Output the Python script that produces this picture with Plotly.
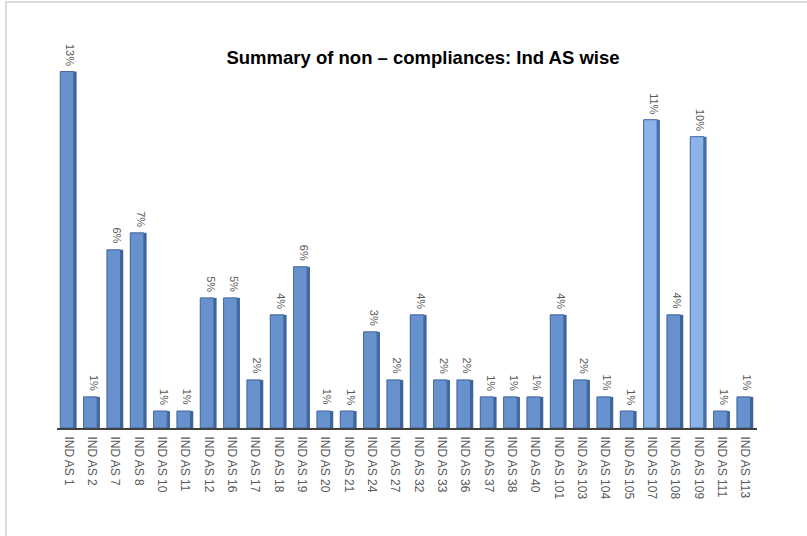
import plotly.graph_objects as go

categories = ["IND AS 1", "IND AS 2", "IND AS 7", "IND AS 8", "IND AS 10", "IND AS 11",
              "IND AS 12", "IND AS 16", "IND AS 17", "IND AS 18", "IND AS 19", "IND AS 20",
              "IND AS 21", "IND AS 24", "IND AS 27", "IND AS 32", "IND AS 33", "IND AS 36",
              "IND AS 37", "IND AS 38", "IND AS 40", "IND AS 101", "IND AS 103", "IND AS 104",
              "IND AS 105", "IND AS 107", "IND AS 108", "IND AS 109", "IND AS 111", "IND AS 113"]
# share of non-compliances (%)
values = [12.6, 1.1, 6.3, 6.9, 0.6, 0.6,
          4.6, 4.6, 1.7, 4.0, 5.7, 0.6,
          0.6, 3.4, 1.7, 4.0, 1.7, 1.7,
          1.1, 1.1, 1.1, 4.0, 1.7, 1.1,
          0.6, 10.9, 4.0, 10.3, 0.6, 1.1]
labels = ["13%", "1%", "6%", "7%", "1%", "1%",
          "5%", "5%", "2%", "4%", "6%", "1%",
          "1%", "3%", "2%", "4%", "2%", "2%",
          "1%", "1%", "1%", "4%", "2%", "1%",
          "1%", "11%", "4%", "10%", "1%", "1%"]
highlight = ["IND AS 107", "IND AS 109"]

face_colors = ["#8cb3e8" if c in highlight else "#6892ce" for c in categories]
side_colors = ["#4a70a8" if c in highlight else "#3f649c" for c in categories]

fig = go.Figure()
fig.add_trace(go.Bar(
    x=categories, y=values, width=0.12, offset=0.22,
    marker=dict(color=side_colors, line=dict(width=0)),
    hoverinfo="skip", showlegend=False,
))
fig.add_trace(go.Bar(
    x=categories, y=values, width=0.58, offset=-0.36,
    marker=dict(color=face_colors, line=dict(color="#3f649c", width=1)),
    showlegend=False,
))

annotations = [dict(x=c, y=v, text=t, textangle=90, showarrow=False,
                    xanchor="center", yanchor="bottom", yshift=4, xshift=2,
                    font=dict(family="Liberation Sans, Arial", size=11, color="#595959"))
               for c, v, t in zip(categories, values, labels)]

W, H = 807, 536
L, R, T, B = 57, 50, 32, 108
pw, ph = W - L - R, H - T - B

fig.update_layout(
    width=W, height=H,
    margin=dict(l=L, r=R, t=T, b=B),
    barmode="overlay",
    plot_bgcolor="white", paper_bgcolor="white",
    title=dict(text="<b>Summary of non – compliances: Ind AS wise</b>",
               x=(423 - L) / pw, xref="paper", xanchor="center",
               y=1 - 58 / H, yanchor="middle",
               font=dict(family="Liberation Sans, Arial", size=18.5, color="#000000")),
    xaxis=dict(tickangle=90, showline=True, linecolor="#404040", linewidth=2,
               ticks="", showgrid=False, ticklabelstandoff=4,
               tickfont=dict(family="Liberation Sans, Arial", size=12, color="#595959")),
    yaxis=dict(range=[0, 14], visible=False, showgrid=False),
    annotations=annotations,
    shapes=[dict(type="rect", xref="paper", yref="paper",
                 x0=(6 - L) / pw, x1=(W + 5 - L) / pw,
                 y0=-(H + 5 - (T + ph)) / ph, y1=1 + (T - 2) / ph,
                 line=dict(color="#d0d0d0", width=1.5), layer="below")],
)

fig.write_html("out.html", config={"displayModeBar": False},
               post_script="document.body.style.margin='0';")
